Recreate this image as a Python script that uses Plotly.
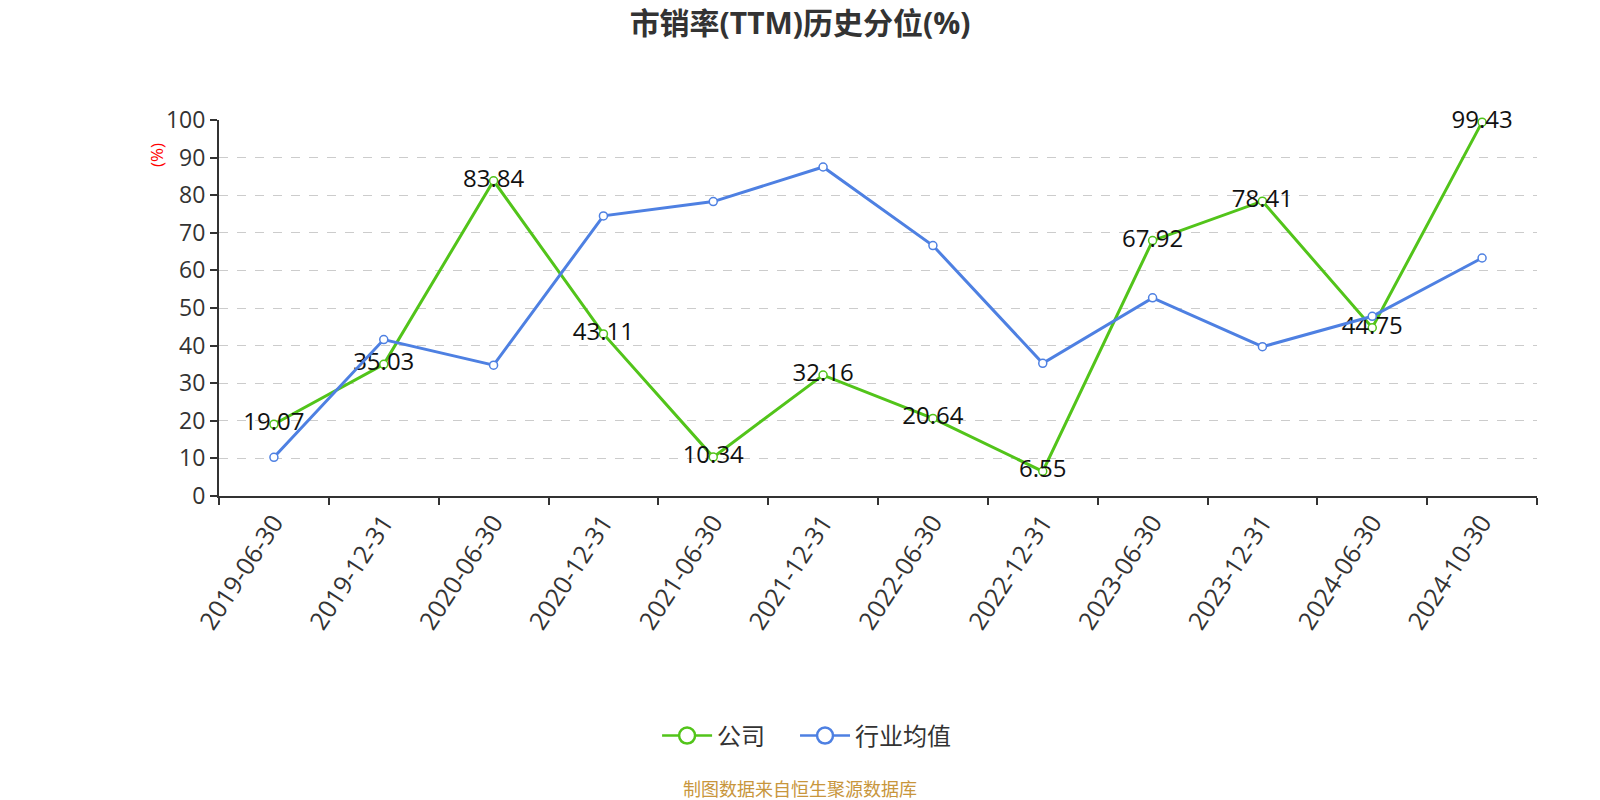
import plotly.graph_objects as go

dates = ["2019-06-30", "2019-12-31", "2020-06-30", "2020-12-31", "2021-06-30", "2021-12-31",
         "2022-06-30", "2022-12-31", "2023-06-30", "2023-12-31", "2024-06-30", "2024-10-30"]
company = [19.07, 35.03, 83.84, 43.11, 10.34, 32.16, 20.64, 6.55, 67.92, 78.41, 44.75, 99.43]
industry = [10.3, 41.6, 34.8, 74.5, 78.3, 87.5, 66.6, 35.3, 52.7, 39.7, 47.8, 63.3]
y_ticks = [0, 10, 20, 30, 40, 50, 60, 70, 80, 90, 100]
legend_names = ["公司", "行业均值"]

GREEN = "#52C41A"
BLUE = "#4E80E2"
FONT = "Open Sans, Noto Sans CJK SC, sans-serif"

fig = go.Figure()
fig.add_trace(go.Scatter(
    x=dates, y=company, name=legend_names[0], mode="lines+markers+text", showlegend=False,
    line=dict(color=GREEN, width=3),
    marker=dict(symbol="circle", size=8, color="white", line=dict(color=GREEN, width=1.5)),
    text=[f"{v:.2f}" for v in company], textposition="middle center",
    textfont=dict(size=24, color="#111", family=FONT), cliponaxis=False,
))
fig.add_trace(go.Scatter(
    x=dates, y=industry, name=legend_names[1], mode="lines+markers", showlegend=False,
    line=dict(color=BLUE, width=3),
    marker=dict(symbol="circle", size=8, color="white", line=dict(color=BLUE, width=1.5)),
    cliponaxis=False,
))
# legend entries with larger symbols
for nm, col, pad in ((legend_names[0], GREEN, "\u00a0\u00a0\u00a0\u00a0"), (legend_names[1], BLUE, "")):
    fig.add_trace(go.Scatter(
        x=[None], y=[None], name=nm + pad, mode="lines+markers",
        line=dict(color=col, width=2.5),
        marker=dict(symbol="circle", size=20, color="white", line=dict(color=col, width=2.5)),
    ))

cx = (800 - 219) / 1318

fig.update_layout(
    width=1600, height=800,
    paper_bgcolor="white", plot_bgcolor="white",
    margin=dict(l=219, r=63, t=120, b=304),
    font=dict(family=FONT, color="#333"),
    title=dict(text="<b>市销率(TTM)历史分位(%)</b>", x=0.5, xanchor="center",
               y=1 - 23 / 800, yanchor="middle", font=dict(size=30, color="#333", family=FONT)),
    showlegend=True,
    legend=dict(orientation="h", x=cx + 0.005, xanchor="center", y=(496 - 736) / 376, yanchor="middle",
                font=dict(size=24, color="#333", family=FONT), itemwidth=50),
    xaxis=dict(type="category", range=[-0.5, 11.5], tickson="boundaries",
               showline=True, linecolor="#333", linewidth=2, ticks="outside", ticklen=7,
               tickcolor="#333", tickwidth=1.5, tickangle=-57, showgrid=False,
               tickfont=dict(size=25, color="#333", family=FONT)),
    yaxis=dict(range=[0, 100], tickvals=y_ticks, showline=True, linecolor="#333", linewidth=2,
               ticks="outside", ticklen=7, tickcolor="#333", tickwidth=1.5,
               showgrid=True, gridcolor="#cccccc", griddash="dash", gridwidth=1.3,
               zeroline=False, tickfont=dict(size=23, color="#333", family=FONT)),
    annotations=[
        dict(text="(%)", xref="paper", yref="paper", x=(156 - 219) / 1318, y=(496 - 155) / 376,
             xanchor="center", yanchor="middle", textangle=-90, showarrow=False,
             font=dict(size=17, color="red", family=FONT)),
        dict(text="制图数据来自恒生聚源数据库", xref="paper", yref="paper", x=cx,
             y=(496 - 789) / 376, xanchor="center", yanchor="middle", showarrow=False,
             font=dict(size=18, color="#C8963C", family=FONT)),
    ],
)

fig.write_html("out.html", config={"displayModeBar": False},
               post_script="document.body.style.margin='0';document.body.style.overflow='hidden';")
